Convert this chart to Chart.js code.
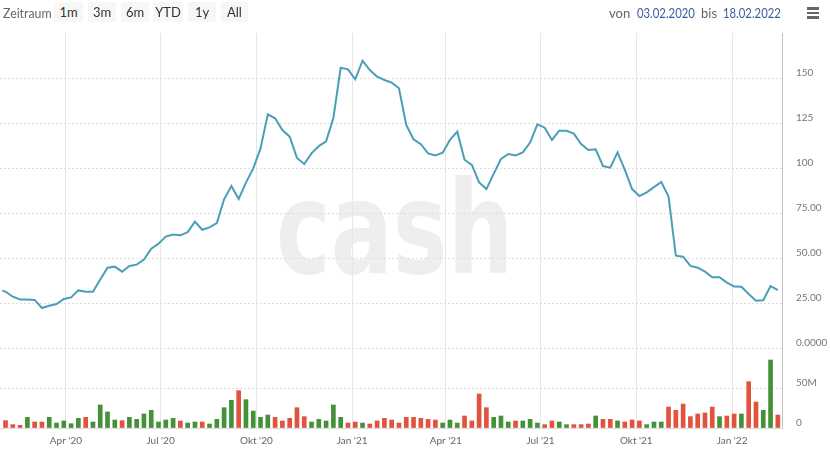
<!DOCTYPE html>
<html lang="de">
<head>
<meta charset="utf-8">
<script src="https://cdn.jsdelivr.net/npm/chart.js@4.4.1/dist/chart.umd.min.js"></script>
<style>
  html, body { margin: 0; padding: 0; background: #fff; }
  #wrap { position: relative; width: 830px; height: 449px; overflow: hidden; font-family: Lato, "Noto Sans", sans-serif; }
  #wm { position: absolute; left: 276px; top: 165px; font: bold 128px "DejaVu Sans", sans-serif; line-height: 128px; color: #eeeeee; transform: scaleX(0.72); transform-origin: 0 0; white-space: nowrap; letter-spacing: 0px; }
  canvas { position: absolute; left: 0; top: 0; }
  .t { position: absolute; top: 3px; height: 20px; line-height: 20px; font-size: 13px; white-space: nowrap; transform-origin: 0 50%; }
  .lbl { color: #666; }
  .btn { background: #f7f7f7; color: #333; text-align: center; top: 2px; }
  .date { color: #3b5aa3; transform: scaleX(0.87); }
  .bar { position: absolute; left: 807px; width: 12px; height: 2.5px; background: #666; }
</style>
</head>
<body>
<div id="wrap">
  <div id="wm">cash</div>
  <canvas id="c" width="830" height="449"></canvas>
  <div class="t lbl" style="left:3px;transform:scaleX(0.95)">Zeitraum</div>
  <div class="t btn" style="left:54px;width:29px">1m</div>
  <div class="t btn" style="left:88px;width:28px">3m</div>
  <div class="t btn" style="left:121px;width:28px">6m</div>
  <div class="t btn" style="left:153px;width:30px">YTD</div>
  <div class="t btn" style="left:188px;width:28px">1y</div>
  <div class="t btn" style="left:221px;width:27px">All</div>
  <div class="t lbl" style="left:609px">von</div>
  <div class="t date" style="left:637px">03.02.2020</div>
  <div class="t lbl" style="left:701px">bis</div>
  <div class="t date" style="left:723px">18.02.2022</div>
  <div class="bar" style="top:7px"></div>
  <div class="bar" style="top:11.5px"></div>
  <div class="bar" style="top:16px"></div>
</div>
<script>
// ---- data ----
const startDate = '2020-02-03';          // first weekly bar (Monday)
const firstPriceDate = '2020-01-31';     // first point of the price line
const weekCount = 107;

const prices = [31.8,
  31.3, 28.5, 27.0, 27.0, 26.7, 22.2, 23.5, 24.4, 27.2, 28.1,
  32.0, 31.3, 31.3, 38.1, 44.6, 45.2, 42.4, 45.6, 46.3, 49.1,
  55.2, 58.0, 61.9, 63.1, 62.6, 64.4, 70.2, 65.7, 67.0, 69.4,
  82.6, 90.0, 82.8, 91.9, 99.8, 110.9, 129.8, 127.6, 121.1, 117.4,
  105.6, 102.2, 108.1, 112.2, 114.8, 127.8, 155.7, 154.8, 149.3, 159.6,
  154.4, 150.7, 148.9, 147.4, 144.3, 123.9, 116.0, 113.2, 108.1, 107.0,
  108.5, 115.6, 120.2, 104.6, 101.7, 92.0, 88.3, 96.7, 105.0, 107.8,
  107.0, 108.7, 114.1, 124.3, 122.4, 115.6, 120.7, 120.7, 119.1, 113.3,
  110.0, 110.4, 101.1, 100.2, 108.7, 98.9, 88.3, 84.4, 86.5, 89.4,
  92.2, 84.1, 51.3, 50.7, 45.6, 44.6, 42.4, 39.3, 39.3, 36.3,
  34.1, 34.0, 30.0, 26.3, 26.5, 34.4, 32.2];

// weekly volume in millions
const volumes = [
  9.2, 4.2, 3.3, 13.3, 7.5, 7.5, 13.3, 6.2, 8.8, 5.4,
  12.1, 13.3, 7.5, 28.8, 20.0, 10.0, 9.2, 13.3, 10.8, 17.5,
  22.1, 7.5, 10.0, 12.1, 8.8, 6.2, 7.5, 7.5, 5.0, 10.8,
  25.4, 34.6, 46.7, 35.4, 21.2, 13.3, 16.2, 13.3, 8.8, 12.1,
  25.4, 14.2, 7.5, 10.8, 8.8, 28.8, 13.3, 6.2, 7.5, 6.2,
  5.0, 8.8, 12.1, 10.0, 6.2, 13.3, 13.3, 12.1, 10.8, 10.0,
  6.2, 10.0, 6.2, 15.0, 8.8, 42.5, 25.4, 13.3, 15.0, 7.5,
  8.8, 8.8, 10.8, 6.2, 4.2, 8.8, 7.5, 4.2, 4.2, 4.2,
  5.0, 15.0, 10.8, 10.8, 8.8, 7.5, 10.0, 8.8, 4.2, 7.5,
  7.5, 26.2, 22.1, 30.0, 14.2, 17.5, 18.8, 26.2, 14.2, 15.0,
  17.5, 17.5, 57.9, 32.5, 22.1, 85.0, 16.2];

// 1 = up week (green), 0 = down week (red)
const volUp = [
  0,0,0,1,0,0,1,1,1,1,
  1,0,1,1,1,1,0,1,1,1,
  1,1,1,1,0,1,1,0,1,1,
  1,1,0,1,1,1,1,0,0,0,
  0,0,1,1,1,1,1,0,0,1,
  0,0,0,0,0,0,0,0,0,0,
  1,1,1,0,0,0,0,1,1,1,
  0,1,1,1,0,0,1,1,0,0,
  0,1,0,0,1,0,0,0,1,1,
  1,0,0,0,0,0,0,0,1,0,
  0,1,0,0,1,1,0];

const xTickDates  = ['2020-04-01','2020-07-01','2020-10-01','2021-01-01','2021-04-01','2021-07-01','2021-10-01','2022-01-01'];
const xTickLabels = ["Apr '20","Jul '20","Okt '20","Jan '21","Apr '21","Jul '21","Okt '21","Jan '22"];
const priceTickValues = [0, 25, 50, 75, 100, 125, 150];
const priceTickLabels = ['0.0000', '25.00', '50.00', '75.00', '100', '125', '150'];
const volTickValues = [0, 50e6];
const volTickLabels = ['0', '50M'];

// ---- helpers ----
const DAY = 864e5;
const base = Date.parse(startDate);
const dayOf = d => (Date.parse(d) - base) / DAY;
const weekDates = [];
for (let i = 0; i < weekCount; i++) weekDates.push(new Date(base + i * 7 * DAY).toISOString().slice(0, 10));
const priceDates = [firstPriceDate].concat(weekDates);

const GREEN = '#45913a', RED = '#e1523f', LINE = '#4a9fb6';
const tickFont = { family: 'Lato, "Noto Sans", sans-serif', size: 10 };

new Chart(document.getElementById('c'), {
  data: {
    datasets: [
      {
        type: 'line', label: 'Kurs', yAxisID: 'yPrice',
        data: priceDates.map((d, i) => ({ x: dayOf(d), y: prices[i] })),
        borderColor: LINE, borderWidth: 2, pointRadius: 0, tension: 0, fill: false
      },
      {
        type: 'bar', label: 'Volumen', yAxisID: 'yVol',
        data: weekDates.map((d, i) => ({ x: dayOf(d), y: volumes[i] * 1e6 })),
        backgroundColor: volUp.map(u => u ? GREEN : RED),
        barThickness: 4
      }
    ]
  },
  options: {
    responsive: false, animation: false,
    layout: { padding: { top: 33, left: 0, right: 0, bottom: 0 } },
    plugins: { legend: { display: false }, tooltip: { enabled: false } },
    scales: {
      x: {
        type: 'linear', min: -5.3, max: 746, offset: false,
        afterBuildTicks: s => { s.ticks = xTickDates.map(d => ({ value: dayOf(d) })); },
        afterFit: s => { s.height = 21; },
        ticks: { callback: (v, i) => xTickLabels[i], autoSkip: false, maxRotation: 0, font: tickFont, color: '#666', padding: 7 },
        grid: { color: '#e6e6e6', drawTicks: false, offset: false },
        border: { color: '#dcdcdc' }
      },
      yPrice: {
        position: 'right', stack: 'panes', stackWeight: 315, weight: 0,
        min: 0, max: 175,
        afterBuildTicks: s => { s.ticks = priceTickValues.map(v => ({ value: v })); },
        afterFit: s => { s.width = 48; },
        ticks: { callback: (v, i) => priceTickLabels[i], font: tickFont, color: '#777', padding: 14, crossAlign: 'near', labelOffset: -5 },
        grid: { color: '#dedede', drawTicks: false },
        border: { display: true, color: '#c4c4c4', dash: [2, 2] }
      },
      yVol: {
        position: 'right', stack: 'panes', stackWeight: 80, weight: 1,
        min: 0, max: 100e6,
        afterBuildTicks: s => { s.ticks = volTickValues.map(v => ({ value: v })); },
        afterFit: s => { s.width = 48; },
        ticks: { callback: (v, i) => volTickLabels[i], font: tickFont, color: '#777', padding: 14, crossAlign: 'near', labelOffset: -5 },
        grid: { color: c => (c.tick && c.tick.value === 0) ? 'rgba(0,0,0,0)' : '#dedede', drawTicks: false },
        border: { display: true, color: '#c4c4c4', dash: [2, 2] }
      }
    }
  }
});
</script>
</body>
</html>
